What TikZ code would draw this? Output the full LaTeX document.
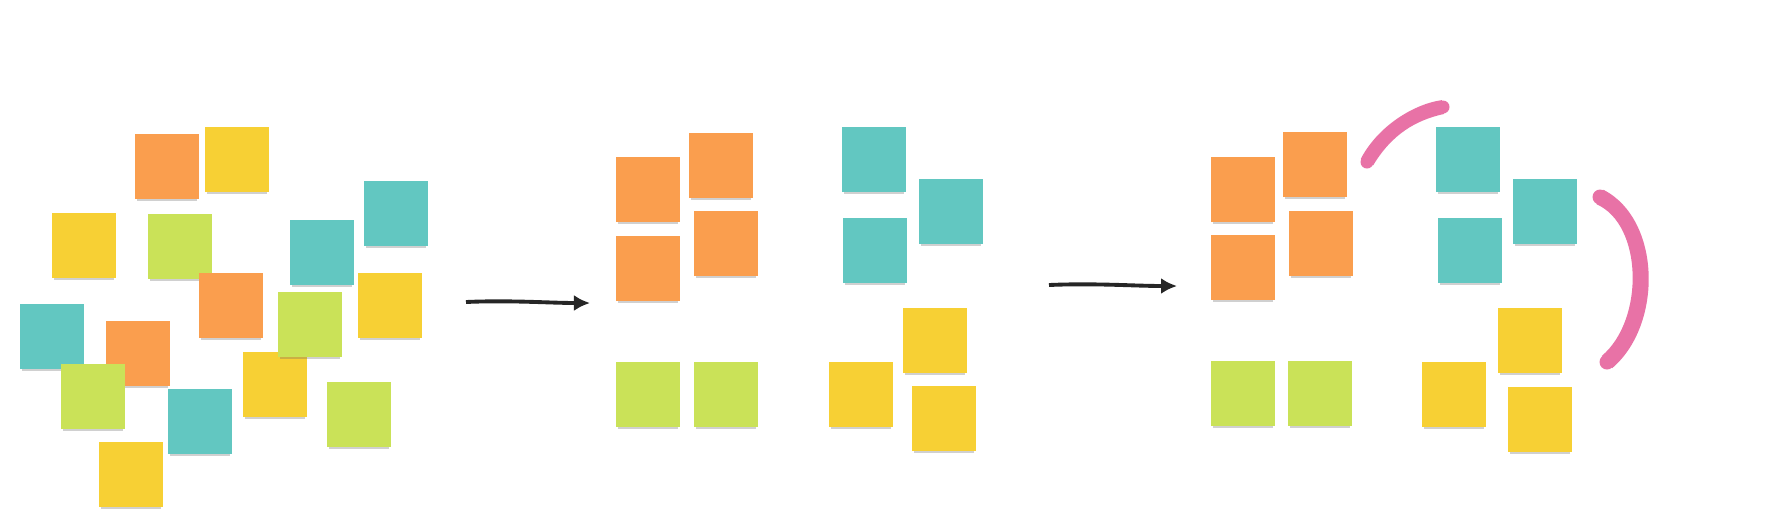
\documentclass[tikz,border=0pt]{standalone}
\usepackage{tikz}
\usetikzlibrary{arrows.meta,shadows}
\definecolor{noteorange}{RGB}{250,158,78}
\definecolor{noteyellow}{RGB}{247,208,52}
\definecolor{notegreen}{RGB}{202,226,88}
\definecolor{noteteal}{RGB}{98,199,193}
\definecolor{markpink}{RGB}{232,114,166}
\tikzset{
	note/.style={rectangle, fill=#1, inner sep=0pt, minimum width=0.64cm, minimum height=0.65cm, anchor=north west,
		drop shadow={shadow xshift=0cm, shadow yshift=-0.04cm, shadow scale=0.94, opacity=0.3, fill=black!60}},
	flow/.style={line width=1.1pt, black!85, -{Latex[length=0.16cm, width=0.16cm]}},
	marker/.style={fill=markpink, draw=none}
}

\begin{document}
\begin{tikzpicture}[x=0.01cm, y=-0.01cm]
			%%%%% START %%%%%
			\useasboundingbox[fill=white] (0, 0) rectangle (1775, 523);
			
			% loose notes
			\node[note=noteorange] (lo1) at (134, 133) {};
			\node[note=noteyellow] (ly1) at (204, 126) {};
			\node[note=noteyellow] (ly2) at (51, 212) {};
			\node[note=notegreen] (lg1) at (147, 213) {};
			\node[note=noteteal] (lt1) at (289, 219) {};
			\node[note=noteteal] (lt2) at (363, 180) {};
			\node[note=noteorange] (lo2) at (198, 272) {};
			\node[note=noteyellow] (ly3) at (357, 272) {};
			\node[note=noteyellow] (ly4) at (242, 351) {};
			\node[note=notegreen] (lg2) at (277, 291) {};
			\node[note=noteteal] (lt3) at (19, 303) {};
			\node[note=noteorange] (lo3) at (105, 320) {};
			\node[note=notegreen] (lg3) at (60, 363) {};
			\node[note=noteteal] (lt4) at (167, 388) {};
			\node[note=notegreen] (lg4) at (326, 381) {};
			\node[note=noteyellow] (ly5) at (98, 441) {};
			
			\coordinate (a1s) at (466, 302);
			\coordinate (a1e) at (590, 303);
			\draw[flow] (a1s) .. controls (510, 300) and (550, 303) .. (a1e);
			
			% sorted notes
			\node[note=noteorange] (so1) at (615, 156) {};
			\node[note=noteorange] (so2) at (688, 132) {};
			\node[note=noteorange] (so3) at (615, 235) {};
			\node[note=noteorange] (so4) at (693, 210) {};
			
			\node[note=noteteal] (st1) at (841, 126) {};
			\node[note=noteteal] (st2) at (918, 178) {};
			\node[note=noteteal] (st3) at (842, 217) {};
			
			\node[note=noteyellow] (sy1) at (902, 307) {};
			\node[note=noteyellow] (sy2) at (828, 361) {};
			\node[note=noteyellow] (sy3) at (911, 385) {};
			
			\node[note=notegreen] (sg1) at (615, 361) {};
			\node[note=notegreen] (sg2) at (693, 361) {};
			
			\coordinate (a2s) at (1049, 285);
			\coordinate (a2e) at (1177, 286);
			\draw[flow] (a2s) .. controls (1095, 283) and (1135, 286) .. (a2e);
			
			% linked notes
			\node[note=noteorange] (ko1) at (1210, 156) {};
			\node[note=noteorange] (ko2) at (1282, 131) {};
			\node[note=noteorange] (ko3) at (1210, 234) {};
			\node[note=noteorange] (ko4) at (1288, 210) {};
			
			\node[note=noteteal] (kt1) at (1435, 126) {};
			\node[note=noteteal] (kt2) at (1512, 178) {};
			\node[note=noteteal] (kt3) at (1437, 217) {};
			
			\node[note=noteyellow] (ky1) at (1497, 307) {};
			\node[note=noteyellow] (ky2) at (1421, 361) {};
			\node[note=noteyellow] (ky3) at (1507, 386) {};
			
			\node[note=notegreen] (kg1) at (1210, 360) {};
			\node[note=notegreen] (kg2) at (1287, 360) {};
			
			% pink links
			\fill[marker] (1360.9, 158.6) .. controls (1378, 126.1) and (1413.6, 104.1) .. (1441.8, 100.1)
				-- (1444.2, 113.9) .. controls (1416.4, 119.9) and (1392, 133.9) .. (1373.1, 165.4) -- cycle;
			\fill[marker] (1367, 162) circle (0.065cm);
			\fill[marker] (1443, 107) circle (0.065cm);
			
			\fill[marker] (1603.5, 189.8) .. controls (1661.2, 219.5) and (1663.2, 324.5) .. (1612.2, 368.1)
				-- (1601.8, 355.9) .. controls (1644.8, 319.5) and (1642.8, 224.5) .. (1596.5, 204.2) -- cycle;
			\fill[marker] (1600, 197) circle (0.075cm);
			\fill[marker] (1607, 362) circle (0.075cm);
			
			%%%%% END %%%%%
		\end{tikzpicture}
\end{document}
